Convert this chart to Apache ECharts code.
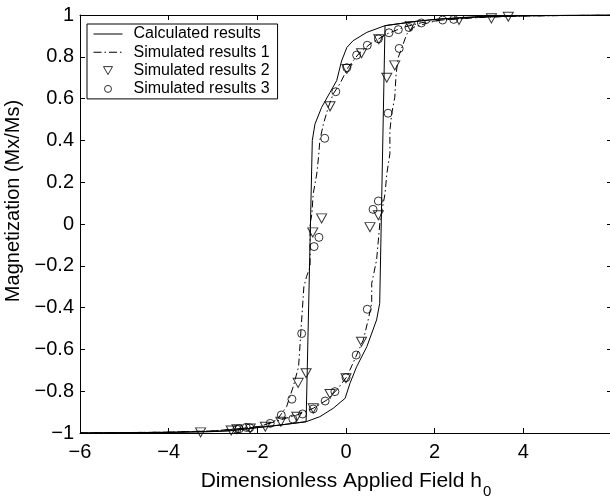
<!DOCTYPE html>
<html>
<head>
<meta charset="utf-8">
<script src="https://cdn.jsdelivr.net/npm/echarts@6/dist/echarts.min.js"></script>
<style>
html,body{margin:0;padding:0;background:#fff;}
#c{width:610px;height:497px;}
</style>
</head>
<body>
<div id="c"></div>
<script>
// ---- data ----
const seriesNames = ['Calculated results', 'Simulated results 1', 'Simulated results 2', 'Simulated results 3'];
const xTickLabels = ['\u22126', '\u22124', '\u22122', '0', '2', '4'];
const yTickLabels = ['\u22121', '\u22120.8', '\u22120.6', '\u22120.4', '\u22120.2', '0', '0.2', '0.4', '0.6', '0.8', '1'];

// Calculated results: ascending branch then descending branch
const calcAsc = [[-6,-1],[-4,-0.997],[-3,-0.993],[-2.61,-0.989],[-2.16,-0.978],[-1.49,-0.962],[-0.90,-0.946],
  [-0.59,-0.922],[-0.29,-0.882],[-0.02,-0.834],[0.09,-0.762],[0.24,-0.683],[0.47,-0.587],[0.69,-0.459],
  [0.76,-0.38],[0.88,0.949],[1.59,0.970],[2.12,0.981],[3,0.99],[4,0.996],[6,1]];
const calcDesc = [[6,1],[4,0.997],[3,0.993],[2.12,0.981],[1.59,0.970],[0.88,0.949],[0.47,0.917],[0.16,0.877],
  [0.02,0.845],[-0.10,0.78],[-0.21,0.686],[-0.36,0.63],[-0.55,0.558],[-0.70,0.478],[-0.76,0.40],
  [-0.90,-0.946],[-1.49,-0.962],[-2.16,-0.978],[-2.61,-0.989],[-3,-0.993],[-4,-0.997],[-6,-1]];

// Simulated results 1 (dash-dot)
const sim1Asc = [[-6,-1],[-4,-0.996],[-3,-0.99],[-2.5,-0.982],[-1.94,-0.968],[-1.49,-0.938],[-1.11,-0.914],
  [-0.74,-0.882],[-0.43,-0.842],[-0.21,-0.794],[0.02,-0.731],[0.24,-0.627],[0.39,-0.555],[0.50,-0.459],
  [0.58,-0.379],[0.58,-0.284],[0.69,-0.172],[0.73,-0.077],[0.77,0.02],[0.88,0.144],[0.92,0.239],[0.99,0.335],
  [0.99,0.446],[1.03,0.526],[1.10,0.606],[1.13,0.718],[1.18,0.798],[1.29,0.861],[1.37,0.909],[1.52,0.941],
  [1.89,0.965],[2.12,0.975],[3,0.988],[4,0.995],[6,1]];
const sim1Desc = [[6,1],[4,0.996],[3,0.99],[2.2,0.977],[1.70,0.963],[1.29,0.941],[0.92,0.909],[0.54,0.861],
  [0.28,0.813],[0.05,0.75],[-0.14,0.67],[-0.29,0.622],[-0.40,0.558],[-0.51,0.478],[-0.59,0.40],[-0.62,0.319],
  [-0.66,0.239],[-0.74,0.144],[-0.77,0.048],[-0.81,0.0],[-0.81,-0.204],[-0.89,-0.252],[-0.95,-0.30],
  [-1.0,-0.459],[-1.07,-0.683],[-1.19,-0.778],[-1.34,-0.874],[-1.56,-0.938],[-1.94,-0.97],[-3,-0.99],
  [-4,-0.996],[-6,-1]];

// Simulated results 2 (down triangles)
const sim2 = [[-3.28,-0.997],[-2.59,-0.988],[-2.46,-0.982],[-2.16,-0.978],[-1.82,-0.970],[-1.47,-0.946],
  [-1.11,-0.922],[-0.74,-0.882],[-0.36,-0.813],[0.00,-0.738],[0.35,-0.563],[0.54,-0.015],[0.73,0.042],
  [0.92,0.700],[1.10,0.759],[1.45,0.948],[2.55,0.976],[3.28,0.984],[3.66,0.992],
  [0.74,0.884],[0.35,0.817],[0.02,0.742],[-0.36,0.563],[-0.55,0.027],[-0.75,-0.04],[-0.90,-0.714],[-1.08,-0.760]];

// Simulated results 3 (circles)
const sim3 = [[-2.46,-0.982],[-2.41,-0.98],[-2.25,-0.973],[-2.17,-0.975],[-1.71,-0.954],[-1.46,-0.914],
  [-1.22,-0.838],[-1.20,-0.933],[-0.98,-0.909],[-0.74,-0.885],[-1.0,-0.524],[-0.72,-0.108],[-0.61,-0.064],
  [-0.47,-0.847],[-0.25,-0.802],[0.0,-0.735],[0.23,-0.627],[0.48,-0.408],[0.61,0.07],[0.73,0.11],[0.95,0.53],
  [1.20,0.84],[-0.48,0.41],[-0.23,0.633],[0.02,0.748],[0.24,0.808],[0.48,0.855],[0.73,0.886],[0.97,0.915],
  [1.18,0.93],[1.42,0.94],[1.70,0.962],[2.18,0.976],[2.43,0.979]];

// ---- chart ----
const FONT = '"Liberation Sans", Arial, Helvetica, sans-serif';
const chart = echarts.init(document.getElementById('c'), null, {renderer: 'canvas'});
const fmtX = v => xTickLabels[Math.round((v + 6) / 2)] || '';
const fmtY = v => yTickLabels[Math.round((v + 1) * 5)] || '';
const axisCommon = {
  axisLine: {show: true, onZero: false, lineStyle: {color: '#000', width: 1}},
  axisTick: {show: true, inside: true, length: 5, lineStyle: {color: '#000', width: 1}},
  splitLine: {show: false}
};
const downTri = 'path://M0,0 L10,0 L5,9 Z';

// legend icons (29x14 box, bounding points set by moveTo)
const BOX = 'M0,0 M29,14 ';
const iconSolid = 'path://' + BOX + 'M0,6.5 H29 V7.5 H0 Z';
const iconDashDot = 'path://' + BOX + 'M0,6.5 H8 V7.5 H0 Z M11,6.5 H12.5 V7.5 H11 Z M15.5,6.5 H23.5 V7.5 H15.5 Z M26.5,6.5 H28 V7.5 H26.5 Z';
const iconTri = 'path://' + BOX + 'M10,3 L19,3 L14.5,11 Z';
const iconCirc = 'path://' + BOX + 'M11,7 A3.5,3.5 0 1,0 18,7 A3.5,3.5 0 1,0 11,7 Z';

chart.setOption({
  animation: false,
  backgroundColor: '#fff',
  textStyle: {fontFamily: FONT},
  grid: {left: 80, top: 15, width: 532, height: 418, containLabel: false, outerBoundsMode: 'none'},
  legend: {
    orient: 'vertical', left: 87, top: 24,
    data: [
      {name: seriesNames[0], icon: iconSolid, itemStyle: {color: '#000', borderWidth: 0}},
      {name: seriesNames[1], icon: iconDashDot, itemStyle: {color: '#000', borderWidth: 0}},
      {name: seriesNames[2], icon: iconTri, itemStyle: {color: 'rgba(0,0,0,0)', borderColor: '#000', borderWidth: 1}},
      {name: seriesNames[3], icon: iconCirc, itemStyle: {color: 'rgba(0,0,0,0)', borderColor: '#000', borderWidth: 1}}
    ],
    backgroundColor: '#fff', borderColor: '#000', borderWidth: 1, borderRadius: 0,
    padding: [2, 8, 2, 6], itemGap: 2.3, itemWidth: 29, itemHeight: 14,
    textStyle: {fontSize: 16, color: '#000', fontFamily: FONT, padding: [0, 0, 0, 6]},
    selectedMode: false
  },
  xAxis: [
    Object.assign({type: 'value', min: -6, max: 6, interval: 2, position: 'bottom',
      name: '{a|Dimensionless Applied Field h}{b|0}', nameLocation: 'middle', nameGap: 31,
      nameTextStyle: {color: '#000', fontFamily: FONT, rich: {
        a: {fontSize: 21, color: '#000', fontFamily: FONT},
        b: {fontSize: 15, color: '#000', fontFamily: FONT, padding: [20, 0, 0, 1]}}},
      axisLabel: {show: true, fontSize: 20, color: '#000', fontFamily: FONT, margin: 9, formatter: fmtX, showMaxLabel: false}
    }, axisCommon),
    Object.assign({type: 'value', min: -6, max: 6, interval: 2, position: 'top', axisLabel: {show: false}}, axisCommon)
  ],
  yAxis: [
    Object.assign({type: 'value', min: -1, max: 1, interval: 0.2, position: 'left',
      name: 'Magnetization (Mx/Ms)', nameLocation: 'middle', nameGap: 46,
      nameTextStyle: {fontSize: 20, color: '#000', fontFamily: FONT, padding: [0, 0, 0, 46]},
      axisLabel: {show: true, fontSize: 20, color: '#000', fontFamily: FONT, margin: 6, formatter: fmtY}
    }, axisCommon),
    Object.assign({type: 'value', min: -1, max: 1, interval: 0.2, position: 'right', axisLabel: {show: false}}, axisCommon)
  ],
  series: [
    {name: seriesNames[0], type: 'line', data: calcAsc.concat(calcDesc), showSymbol: false, symbol: 'none',
      lineStyle: {color: '#000', width: 1, type: 'solid'}, itemStyle: {color: '#000'}, z: 3},
    {name: seriesNames[1], type: 'line', data: sim1Asc.concat(sim1Desc), showSymbol: false, symbol: 'none',
      lineStyle: {color: '#000', width: 1, type: [7, 3, 1.5, 3]}, itemStyle: {color: '#000'}, z: 3},
    {name: seriesNames[2], type: 'scatter', data: sim2, symbol: downTri, symbolSize: [10, 9],
      itemStyle: {color: 'rgba(255,255,255,0)', borderColor: '#000', borderWidth: 1}, z: 4},
    {name: seriesNames[3], type: 'scatter', data: sim3, symbol: 'circle', symbolSize: 8,
      itemStyle: {color: 'rgba(255,255,255,0)', borderColor: '#000', borderWidth: 1}, z: 4}
  ]
});
</script>
</body>
</html>
